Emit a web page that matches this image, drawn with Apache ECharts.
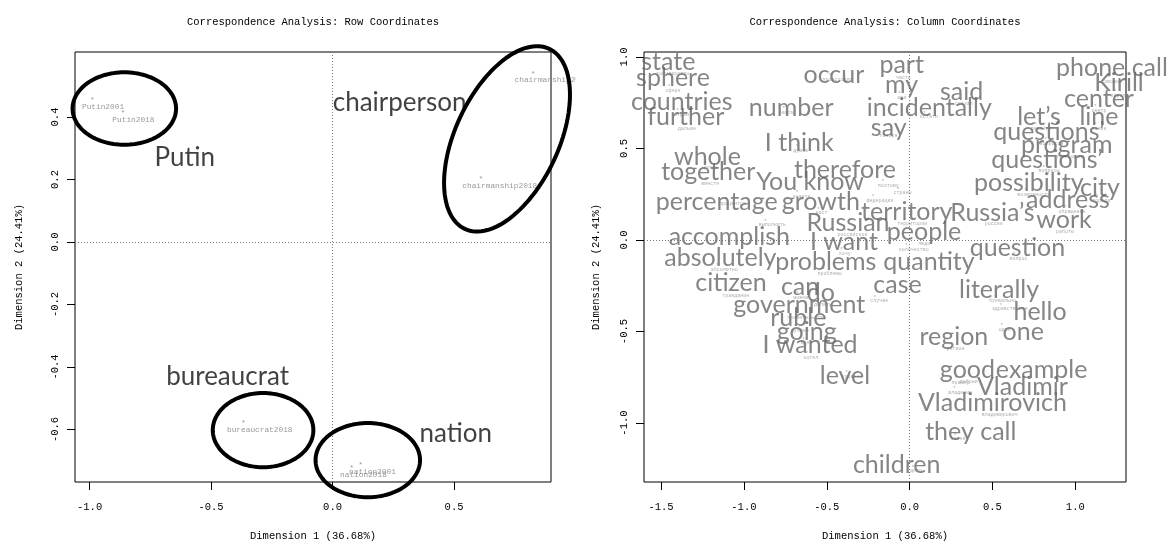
<!DOCTYPE html>
<html>
<head>
<meta charset="utf-8">
<script src="https://cdn.jsdelivr.net/npm/echarts@6/dist/echarts.min.js"></script>
<style>
  html, body { margin: 0; padding: 0; background: #fff; }
  #chart { width: 1168px; height: 550px; }
</style>
</head>
<body>
<div id="chart"></div>
<script>
// ---- Row coordinates (left panel) ----
const rowNames = ['Putin2001', 'Putin2018', 'chairmanship2001', 'chairmanship2018', 'bureaucrat2018', 'nation2001', 'nation2018'];
const rowDim1 = [-0.988, -0.863, 0.826, 0.611, -0.367, 0.116, 0.079];
const rowDim2 = [0.461, 0.421, 0.546, 0.209, -0.571, -0.707, -0.715];

// group words written beside the row clusters
const groupWords = ['Putin', 'chairperson', 'bureaucrat', 'nation'];
const groupDim1 = [-0.608, 0.276, -0.432, 0.507];
const groupDim2 = [0.269, 0.445, -0.432, -0.613];

// ellipses around the clusters: centre and two semi-axis vectors, in dimension units
const ellipseDim1 = [-0.857, 0.718, -0.286, 0.145];
const ellipseDim2 = [0.427, 0.330, -0.602, -0.698];
const ellipseAxisU = [[0.213, 0], [0.174, 0.288], [0.207, 0], [0.215, 0]];
const ellipseAxisV = [[0, 0.116], [-0.192, 0.0705], [0, 0.1186], [0, 0.1186]];

// ---- Column coordinates (right panel) ----
const colWords = ['государство', 'сфере', 'стран', 'дальше', 'происходит', 'число', 'думаю', 'целом', 'вместе', 'знаете',
  'поэтому', 'процентов', 'рост', 'территории', 'российской', 'выполнить', 'хочу', 'часть', 'мой', 'сказал',
  'кстати', 'говоря', 'звонок', 'кирилл', 'центр', 'линии', 'давайте', 'вопросов', 'программы', 'вопросы',
  'возможность', 'города', 'обращение', 'россии', 'работы', 'люди', 'вопрос', 'количество', 'случае', 'буквально',
  'здравствуйте', 'один', 'регион', 'добрый', 'пример', 'владимир', 'владимирович', 'звонят', 'дети', 'уровень',
  'абсолютно', 'проблемы', 'гражданин', 'можем', 'делать', 'правительство', 'рублей', 'идет', 'хотел', 'страны', 'федерации'];
const colDim1 = [-1.48, -1.45, -1.40, -1.37, -0.48, -0.76, -0.68, -1.23, -1.23, -0.68,
  -0.16, -1.11, -0.55, -0.03, -0.39, -0.87, -0.41, -0.06, -0.06, 0.30,
  0.09, -0.155, 1.20, 1.24, 1.12, 1.12, 0.76, 0.82, 0.93, 0.81,
  0.70, 1.13, 0.94, 0.48, 0.91, 0.07, 0.63, -0.02, -0.21, 0.52,
  0.55, 0.556, 0.25, 0.33, 0.28, 0.27, 0.49, 0.274, 0.02, -0.38,
  -1.16, -0.52, -1.09, -0.68, -0.55, -0.68, -0.69, -0.64, -0.62, -0.07, -0.22];
const colDim2 = [0.94, 0.85, 0.72, 0.64, 0.91, 0.73, 0.52, 0.43, 0.34, 0.27,
  0.33, 0.23, 0.18, 0.12, 0.06, 0.115, -0.04, 0.92, 0.81, 0.78,
  0.705, 0.60, 0.90, 0.82, 0.74, 0.64, 0.64, 0.56, 0.49, 0.41,
  0.28, 0.25, 0.19, 0.12, 0.08, 0.01, -0.07, -0.02, -0.30, -0.30,
  -0.345, -0.455, -0.56, -0.74, -0.745, -0.80, -0.92, -1.055, -1.23, -0.715,
  -0.13, -0.15, -0.27, -0.28, -0.32, -0.39, -0.46, -0.53, -0.61, 0.29, 0.25];

// English glosses written over the column map
const glossWords = ['state', 'sphere', 'countries', 'further', 'occur', 'number', 'I think', 'whole', 'together', 'You know',
  'therefore', 'percentage', 'growth', 'territory', 'Russian', 'accomplish', 'I want', 'part', 'my', 'said',
  'incidentally', 'say', 'phone call', 'Kirill', 'center', 'line', 'let\u2019s', 'questions\u2019', 'program', 'questions\u2019',
  'possibility', 'city', 'address', 'Russia\u2019s', 'work', 'people', 'question', 'quantity', 'case', 'literally',
  'hello', 'one', 'region', 'good', 'example', 'Vladimir', 'Vladimirovich', 'they call', 'children', 'level',
  'absolutely', 'problems', 'citizen', 'can', 'do', 'government', 'ruble', 'going', 'I wanted'];
const glossDim1 = [-1.456, -1.428, -1.375, -1.351, -0.457, -0.715, -0.666, -1.220, -1.215, -0.601,
  -0.390, -1.164, -0.536, -0.017, -0.372, -1.088, -0.396, -0.048, -0.048, 0.314,
  0.119, -0.126, 1.221, 1.264, 1.143, 1.143, 0.781, 0.841, 0.948, 0.829,
  0.719, 1.149, 0.956, 0.500, 0.932, 0.087, 0.651, 0.117, -0.073, 0.540,
  0.787, 0.686, 0.267, 0.349, 0.797, 0.681, 0.500, 0.369, -0.078, -0.390,
  -1.142, -0.506, -1.078, -0.661, -0.536, -0.666, -0.672, -0.621, -0.601];
const glossDim2 = [0.974, 0.884, 0.756, 0.674, 0.902, 0.720, 0.528, 0.455, 0.373, 0.319,
  0.383, 0.209, 0.209, 0.153, 0.091, 0.018, -0.009, 0.956, 0.847, 0.810,
  0.720, 0.610, 0.938, 0.856, 0.769, 0.674, 0.674, 0.592, 0.519, 0.437,
  0.310, 0.283, 0.219, 0.146, 0.109, 0.045, -0.045, -0.119, -0.246, -0.273,
  -0.392, -0.501, -0.528, -0.710, -0.710, -0.802, -0.892, -1.048, -1.230, -0.743,
  -0.100, -0.119, -0.237, -0.255, -0.291, -0.355, -0.428, -0.501, -0.574];

// tick marks
const rowTicksX = [-1.0, -0.5, 0.0, 0.5];
const rowTicksY = [-0.6, -0.4, -0.2, 0.0, 0.2, 0.4];
const colTicksX = [-1.5, -1.0, -0.5, 0.0, 0.5, 1.0];
const colTicksY = [-1.0, -0.5, 0.0, 0.5, 1.0];

const MONO = '"Liberation Mono", "DejaVu Sans Mono", monospace';
const HUMANIST = 'Lato, "Open Sans", sans-serif';

const measure = document.createElement('canvas').getContext('2d');
function textWidth(s, size) {
  measure.font = size + 'px "Liberation Mono"';
  return measure.measureText(s).width;
}

function valueAxis(gridIndex, min, max, ticks, name, nameGap, isY) {
  return {
    type: 'value', gridIndex, min, max, name,
    nameLocation: 'middle', nameGap,
    nameTextStyle: { fontFamily: MONO, fontSize: 10.5, color: '#000' },
    axisLine: { show: false, onZero: false },
    splitLine: { show: false },
    axisTick: { show: true, inside: false, length: 8, customValues: ticks, lineStyle: { color: '#000', width: 1 } },
    axisLabel: {
      customValues: ticks, formatter: v => v.toFixed(1),
      fontFamily: MONO, fontSize: 10.5, color: '#000',
      margin: isY ? 14 : 20, rotate: isY ? 90 : 0
    }
  };
}

// points drawn as asterisks, with their names set just below
function starSeries(ax, xs, ys, color, size) {
  return {
    type: 'scatter', xAxisIndex: ax, yAxisIndex: ax, symbolSize: 1, silent: true, z: 3,
    itemStyle: { color: 'rgba(0,0,0,0)' },
    data: xs.map((x, i) => [x, ys[i]]),
    label: { show: true, position: 'inside', formatter: '*', fontFamily: MONO, fontSize: size, color, offset: [0, 2], textBorderWidth: 0 }
  };
}
function nameSeries(ax, names, xs, ys, color, size, drop) {
  return {
    type: 'scatter', xAxisIndex: ax, yAxisIndex: ax, symbolSize: 1, silent: true, z: 3,
    itemStyle: { color: 'rgba(0,0,0,0)' },
    data: names.map((n, i) => ({ name: n, value: [xs[i], ys[i]], label: { offset: [textWidth(n, size) / 4, drop] } })),
    label: { show: true, position: 'inside', formatter: '{b}', fontFamily: MONO, fontSize: size, color, textBorderWidth: 0 }
  };
}
function wordSeries(ax, words, xs, ys, color, size) {
  return {
    type: 'scatter', xAxisIndex: ax, yAxisIndex: ax, symbolSize: 1, silent: true, z: 6,
    itemStyle: { color: 'rgba(0,0,0,0)' },
    data: words.map((w, i) => ({ name: w, value: [xs[i], ys[i]] })),
    label: { show: true, position: 'inside', formatter: '{b}', fontFamily: HUMANIST, fontSize: size, color, textBorderWidth: 0 }
  };
}
function zeroLines(ax) {
  return {
    type: 'scatter', xAxisIndex: ax, yAxisIndex: ax, data: [], silent: true,
    markLine: {
      silent: true, symbol: ['none', 'none'], label: { show: false },
      lineStyle: { type: [1, 2], color: '#777', width: 1 },
      data: [{ xAxis: 0 }, { yAxis: 0 }]
    }
  };
}

const chart = echarts.init(document.getElementById('chart'), null, { renderer: 'canvas' });
chart.setOption({
  animation: false,
  backgroundColor: '#fff',
  grid: [
    { left: 75, right: 617, top: 52, bottom: 68, show: true, borderColor: '#000', borderWidth: 1, backgroundColor: 'transparent' },
    { left: 644, right: 42, top: 52, bottom: 68, show: true, borderColor: '#000', borderWidth: 1, backgroundColor: 'transparent' }
  ],
  xAxis: [
    valueAxis(0, -1.060, 0.899, rowTicksX, 'Dimension 1 (36.68%)', 49, false),
    valueAxis(1, -1.603, 1.306, colTicksX, 'Dimension 1 (36.68%)', 49, false)
  ],
  yAxis: [
    valueAxis(0, -0.768, 0.608, rowTicksY, 'Dimension 2 (24.41%)', 50, true),
    valueAxis(1, -1.322, 1.027, colTicksY, 'Dimension 2 (24.41%)', 42, true)
  ],
  graphic: [
    { type: 'text', x: 313, y: 22, style: { text: 'Correspondence Analysis: Row Coordinates', font: '10.5px ' + MONO, fill: '#000', align: 'center', verticalAlign: 'middle' } },
    { type: 'text', x: 885, y: 22, style: { text: 'Correspondence Analysis: Column Coordinates', font: '10.5px ' + MONO, fill: '#000', align: 'center', verticalAlign: 'middle' } },
    // the left figure region ends here; text running past it is cut off
    { type: 'rect', x: 576, y: 60, z: 100, shape: { width: 30, height: 22 }, style: { fill: '#fff' } }
  ],
  series: [
    zeroLines(0),
    zeroLines(1),
    starSeries(0, rowDim1, rowDim2, '#808080', 8),
    nameSeries(0, rowNames, rowDim1, rowDim2, '#808080', 7.8, 9),
    wordSeries(0, groupWords, groupDim1, groupDim2, '#111', 26),
    {
      type: 'custom', xAxisIndex: 0, yAxisIndex: 0, clip: false, silent: true, z: 8,
      data: ellipseDim1.map((x, i) => [x, ellipseDim2[i], i]),
      encode: { x: 0, y: 1 },
      renderItem(params, api) {
        const cx = api.value(0), cy = api.value(1), k = api.value(2);
        const u = ellipseAxisU[k], v = ellipseAxisV[k];
        const pts = [];
        for (let j = 0; j < 120; j++) {
          const t = 2 * Math.PI * j / 120;
          pts.push(api.coord([cx + u[0] * Math.cos(t) + v[0] * Math.sin(t), cy + u[1] * Math.cos(t) + v[1] * Math.sin(t)]));
        }
        return { type: 'polygon', shape: { points: pts }, style: { fill: 'none', stroke: '#000', lineWidth: 4 } };
      }
    },
    starSeries(1, colDim1, colDim2, '#999', 6),
    nameSeries(1, colWords, colDim1, colDim2, '#999', 5, 6),
    wordSeries(1, glossWords, glossDim1, glossDim2, '#666', 25)
  ]
});
</script>
</body>
</html>
